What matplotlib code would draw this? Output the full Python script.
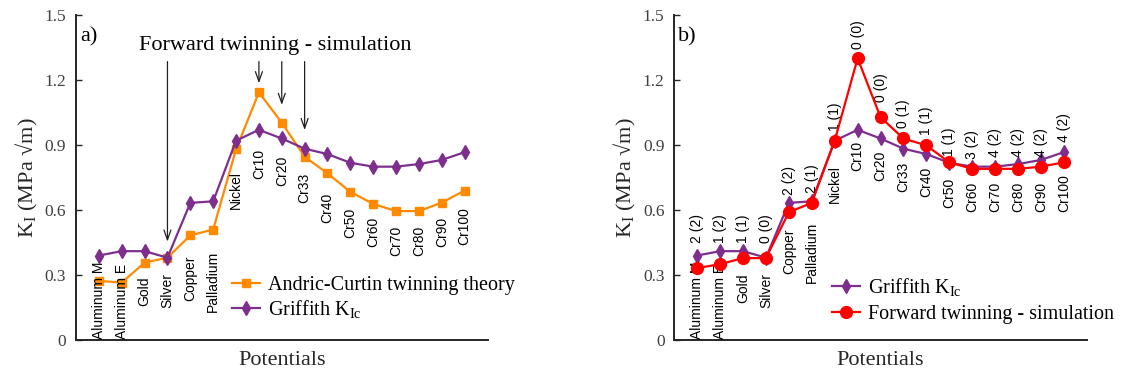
import matplotlib
matplotlib.use('Agg')
import matplotlib.pyplot as plt

# ---------------- data ----------------
categories = ['Aluminum M', 'Aluminum E', 'Gold', 'Silver', 'Copper', 'Palladium',
              'Nickel', 'Cr10', 'Cr20', 'Cr33', 'Cr40', 'Cr50', 'Cr60', 'Cr70',
              'Cr80', 'Cr90', 'Cr100']
griffith = [0.390, 0.410, 0.410, 0.380, 0.633, 0.640, 0.920, 0.970, 0.930, 0.883,
            0.858, 0.818, 0.800, 0.800, 0.812, 0.831, 0.867]
andric_curtin = [0.273, 0.265, 0.357, 0.380, 0.483, 0.510, 0.880, 1.143, 1.003,
                 0.846, 0.769, 0.684, 0.628, 0.595, 0.595, 0.634, 0.690]
forward_sim = [0.332, 0.350, 0.378, 0.378, 0.590, 0.633, 0.920, 1.300, 1.028,
               0.930, 0.898, 0.820, 0.790, 0.790, 0.790, 0.800, 0.820]
counts = ['2 (2)', '1 (2)', '1 (1)', '0 (0)', '2 (2)', '2 (1)', '1 (1)', '0 (0)',
          '0 (0)', '0 (1)', '1 (1)', '1 (1)', '3 (2)', '4 (2)', '4 (2)', '4 (2)', '4 (2)']
arrow_targets = ['Silver', 'Cr10', 'Cr20', 'Cr33']
yticks = [0, 0.3, 0.6, 0.9, 1.2, 1.5]
ytick_labels = ['0', '0.3', '0.6', '0.9', '1.2', '1.5']

# ---------------- layout (label anchor heights, data units) ----------------
label_y_a = [0.005, 0.005, 0.158, 0.150, 0.181, 0.127, 0.603, 0.741, 0.710, 0.634,
             0.541, 0.473, 0.427, 0.388, 0.388, 0.427, 0.440]
label_y_b = [0.005, 0.005, 0.173, 0.150, 0.304, 0.265, 0.632, 0.780, 0.732, 0.682,
             0.658, 0.607, 0.590, 0.590, 0.590, 0.590, 0.590]
count_y_b = [0.449, 0.449, 0.449, 0.449, 0.670, 0.680, 0.965, 1.343, 1.100, 0.977,
             0.948, 0.850, 0.835, 0.845, 0.845, 0.845, 0.912]
arrow_tips = [0.454, 1.185, 1.085, 0.969]
arrow_start = 1.285

ORANGE = '#FF8A00'
PURPLE = '#7E2F8E'
RED = '#FF0000'
SERIF = ['Liberation Serif', 'DejaVu Serif']
SANS = ['Liberation Sans', 'DejaVu Sans']

plt.rcParams['mathtext.fontset'] = 'custom'
plt.rcParams['mathtext.rm'] = 'Liberation Serif'
plt.rcParams['mathtext.it'] = 'Liberation Serif:italic'
plt.rcParams['mathtext.bf'] = 'Liberation Serif:bold'

fig = plt.figure(figsize=(11.21, 3.74), dpi=100)
ax_a = fig.add_axes([0.0678, 0.0909, 0.3671, 0.869])
ax_b = fig.add_axes([0.6015, 0.0909, 0.3680, 0.869])

x = list(range(1, len(categories) + 1))


def style_axes(ax, letter):
    ax.set_xlim(0, 18)
    ax.set_ylim(0, 1.5)
    ax.set_yticks(yticks)
    ax.set_yticklabels(ytick_labels, family=SERIF, fontsize=12.5, color='#404040')
    ax.set_xticks([])
    ax.tick_params(axis='y', direction='in', length=4, width=1, pad=7, color='#262626')
    for s in ['top', 'right']:
        ax.spines[s].set_visible(False)
    for s in ['left', 'bottom']:
        ax.spines[s].set_linewidth(1.4)
        ax.spines[s].set_color('#262626')
    ax.set_ylabel(r'$\mathrm{K_I}$ (MPa √m)', family=SERIF, fontsize=16, color='#262626')
    ax.yaxis.set_label_coords(-0.12, 0.5)
    ax.yaxis.label.set_va('center')
    ax.set_xlabel('Potentials', family=SERIF, fontsize=16, color='#262626')
    ax.xaxis.set_label_coords(0.5, -0.062)
    ax.xaxis.label.set_va('center')
    ax.text(0.01, 0.92, letter, transform=ax.transAxes, family=SERIF, fontsize=16,
            va='baseline', ha='left')


# ---------------- panel a ----------------
style_axes(ax_a, 'a)')
ax_a.plot(x, andric_curtin, '-s', color=ORANGE, lw=1.6, ms=6, mew=1,
          label='Andric-Curtin twinning theory', zorder=3)
ax_a.plot(x, griffith, '-d', color=PURPLE, lw=1.6, ms=7, mew=1,
          label=r'Griffith $\mathrm{K_{Ic}}$', zorder=3)
for xi, name, yl in zip(x, categories, label_y_a):
    ax_a.text(xi, yl, name, rotation=90, ha='center', va='bottom', family=SANS,
              fontsize=10)
ax_a.text(8.7, 1.36, 'Forward twinning - simulation', ha='center', va='center',
          family=SERIF, fontsize=16)
for name, tip in zip(arrow_targets, arrow_tips):
    xi = categories.index(name) + 1
    ax_a.annotate('', xy=(xi, tip), xytext=(xi, arrow_start),
                  arrowprops=dict(arrowstyle='->,head_length=0.7,head_width=0.25',
                                  lw=0.9, color='#222222', shrinkA=0, shrinkB=0))
ax_a.legend(loc='center left', bbox_to_anchor=(0.379, 0.128), frameon=False,
            prop={'family': SERIF, 'size': 14.5}, borderaxespad=0, borderpad=0,
            handlelength=1.4, handletextpad=0.4, labelspacing=0.15)

# ---------------- panel b ----------------
style_axes(ax_b, 'b)')
ax_b.plot(x, griffith, '-d', color=PURPLE, lw=1.6, ms=7, mew=1,
          label=r'Griffith $\mathrm{K_{Ic}}$', zorder=3)
ax_b.plot(x, forward_sim, '-o', color=RED, lw=1.6, ms=8.5, mew=1,
          label='Forward twinning - simulation', zorder=4)
for xi, name, yl in zip(x, categories, label_y_b):
    ax_b.text(xi, yl, name, rotation=90, ha='center', va='bottom', family=SANS,
              fontsize=10)
for xi, c, yl in zip(x, counts, count_y_b):
    ax_b.text(xi, yl, c, rotation=90, ha='center', va='bottom', family=SANS,
              fontsize=10)
ax_b.legend(loc='center left', bbox_to_anchor=(0.382, 0.123), frameon=False,
            prop={'family': SERIF, 'size': 14.5}, borderaxespad=0, borderpad=0,
            handlelength=1.4, handletextpad=0.4, labelspacing=0.35)

fig.savefig('out.png', dpi=100)
